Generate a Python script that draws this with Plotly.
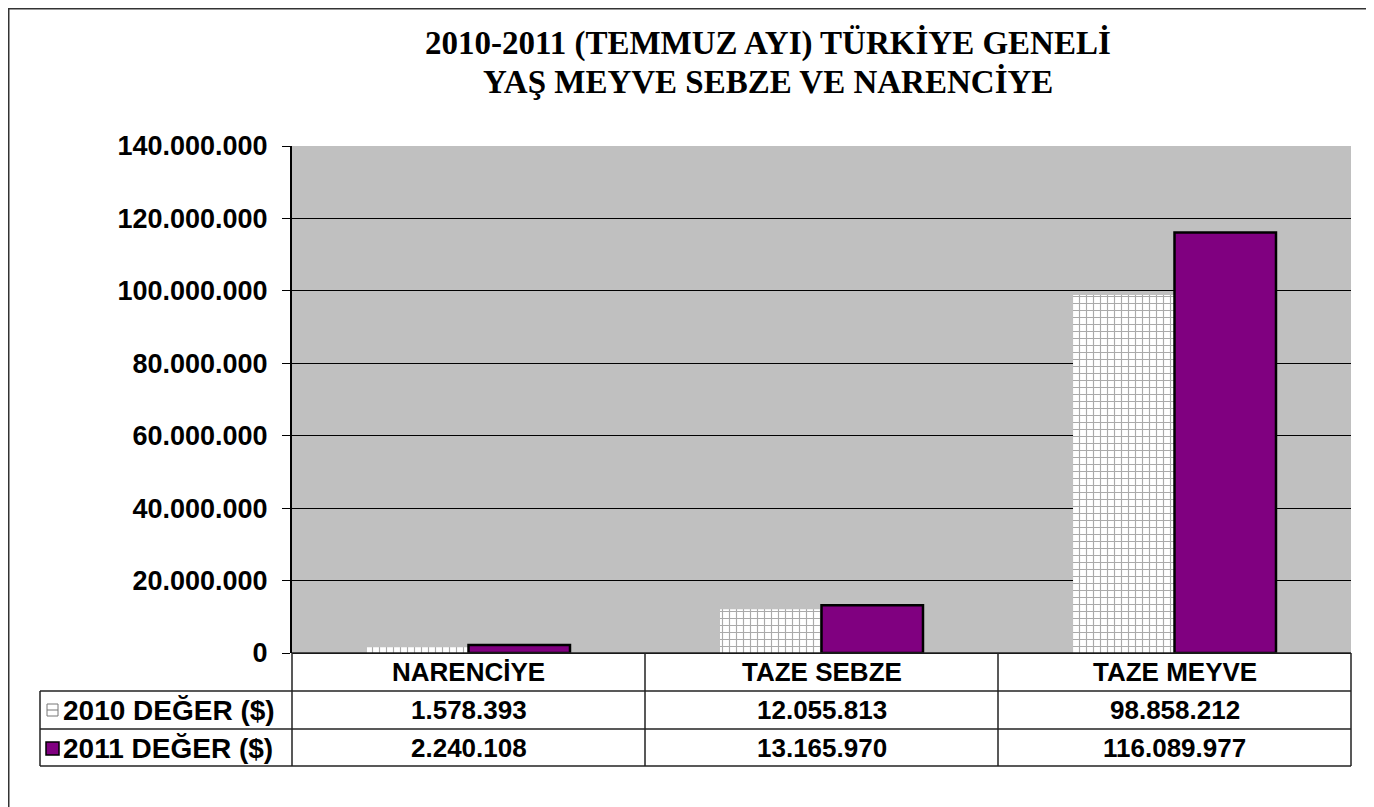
import plotly.graph_objects as go

categories = ["NARENCİYE", "TAZE SEBZE", "TAZE MEYVE"]
series_names = ["2010 DEĞER ($)", "2011 DEĞER ($)"]
values_2010 = [1578393, 12055813, 98858212]
values_2011 = [2240108, 13165970, 116089977]
tick_vals = [0, 20000000, 40000000, 60000000, 80000000, 100000000, 120000000, 140000000]
title_lines = ["2010-2011 (TEMMUZ AYI) TÜRKİYE GENELİ", "YAŞ MEYVE SEBZE VE NARENCİYE"]

OFF = 8  # page body margin
W, H = 1374 - OFF, 807 - OFF
SL, SR, ST, SB = 292, 1351, 146, 653
L, R, T, B = SL - OFF, SR - OFF, ST - OFF, SB - OFF
PW, PH = R - L, B - T


def px(x):
    return (x - OFF - L) / PW


def py(y):
    return (B - (y - OFF)) / PH


def fmt(v):
    return f"{v:,}".replace(",", ".")


fig = go.Figure()
fig.add_trace(go.Bar(
    x=categories, y=values_2010, name=series_names[0],
    marker=dict(color="white", line=dict(width=0),
                pattern=dict(shape="+", fgcolor="#555555", bgcolor="white", size=7, solidity=0.3)),
))
fig.add_trace(go.Bar(
    x=categories, y=values_2011, name=series_names[1],
    marker=dict(color="#800080", line=dict(color="black", width=2.5)),
))

font_b = dict(family="Liberation Sans, Arial", size=26, color="black", weight="bold")
font_t = dict(family="Liberation Sans, Arial", size=27, color="black", weight="bold")
font_l = dict(family="Liberation Sans, Arial", size=28, color="black", weight="bold")

fig.update_layout(
    width=W, height=H,
    margin=dict(l=L, r=W - R, t=T, b=H - B, pad=0),
    paper_bgcolor="white", plot_bgcolor="#C0C0C0",
    separators=",.",
    showlegend=False,
    barmode="group", bargap=0.425, bargroupgap=0,
    xaxis=dict(showticklabels=False, showgrid=False, ticks="", showline=False, zeroline=False),
    yaxis=dict(range=[0, 140000000], tickvals=tick_vals, tickformat=",d",
               showgrid=True, gridcolor="black", gridwidth=1,
               showline=True, linecolor="black", linewidth=2,
               ticks="outside", ticklen=8, tickcolor="black",
               zeroline=True, zerolinecolor="black", zerolinewidth=1,
               tickfont=font_t, ticklabelstandoff=9),
)

shapes = []
ann = []
shapes.append(dict(type="rect", xref="paper", yref="paper", x0=px(8.5), x1=px(1368), y0=py(830), y1=py(8.5),
                   line=dict(color="#333", width=2), layer="below"))
for i, t in enumerate(title_lines):
    ann.append(dict(text=t, xref="paper", yref="paper", x=px(768), y=py(43 + 38 * i),
                    showarrow=False, xanchor="center", yanchor="middle",
                    font=dict(family="Liberation Serif, Times New Roman", size=33, color="black", weight="bold")))

rows_y = [653, 691, 729, 766]
cols_x = [40, 292, 645, 998, 1351]
line_c = dict(color="#222", width=1.5)
shapes.append(dict(type="line", xref="paper", yref="paper", x0=px(292), x1=px(1351), y0=py(653), y1=py(653), line=line_c))
for y in rows_y[1:]:
    shapes.append(dict(type="line", xref="paper", yref="paper", x0=px(40), x1=px(1351), y0=py(y), y1=py(y), line=line_c))
shapes.append(dict(type="line", xref="paper", yref="paper", x0=px(40), x1=px(40), y0=py(691), y1=py(766), line=line_c))
for x in cols_x[1:]:
    shapes.append(dict(type="line", xref="paper", yref="paper", x0=px(x), x1=px(x), y0=py(653), y1=py(766), line=line_c))

for j, c in enumerate(categories):
    cx = (cols_x[j + 1] + cols_x[j + 2]) / 2
    ann.append(dict(text=c, xref="paper", yref="paper", x=px(cx), y=py(672), showarrow=False,
                    xanchor="center", yanchor="middle", font=font_b))
    for r, vals in enumerate([values_2010, values_2011]):
        ann.append(dict(text=fmt(vals[j]), xref="paper", yref="paper", x=px(cx), y=py(710 + 38 * r),
                        showarrow=False, xanchor="center", yanchor="middle", font=font_b))
for r, nm in enumerate(series_names):
    ann.append(dict(text=nm, xref="paper", yref="paper", x=px(61), y=py(710 + 38 * r), showarrow=False,
                    xanchor="left", yanchor="middle", font=font_l))
shapes.append(dict(type="rect", xref="paper", yref="paper", x0=px(47), x1=px(58), y0=py(716), y1=py(704),
                   fillcolor="white", line=dict(color="#777", width=1)))
shapes.append(dict(type="line", xref="paper", yref="paper", x0=px(47), x1=px(58), y0=py(710), y1=py(710),
                   line=dict(color="#777", width=1)))
shapes.append(dict(type="rect", xref="paper", yref="paper", x0=px(46), x1=px(59), y0=py(755), y1=py(742),
                   fillcolor="#800080", line=dict(color="black", width=1.5)))

fig.update_layout(shapes=shapes, annotations=ann)
fig.write_html("out.html")
